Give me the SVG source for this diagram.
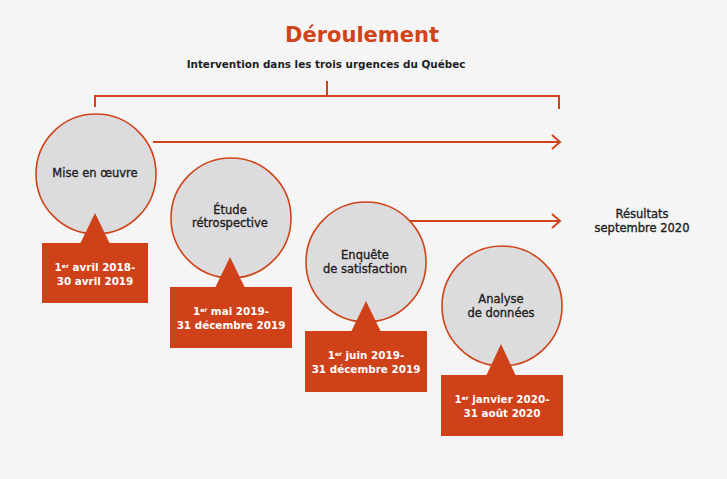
<svg xmlns="http://www.w3.org/2000/svg" width="727" height="479" viewBox="0 0 727 479">
<style>
.bg{fill:#f5f5f5}
.ln{stroke:#cf4419;stroke-width:2;fill:none}
.circ{fill:#dcdcde;stroke:#cf4419;stroke-width:1.6}
.box{fill:#cf4118}
.tri{fill:#cf4118}
.ct{font-family:"DejaVu Sans",sans-serif;font-size:11.5px;fill:#1e1e1e;stroke:#1e1e1e;stroke-width:0.35;text-anchor:middle}
.bt{font-family:"DejaVu Sans",sans-serif;font-size:10.4px;font-weight:bold;fill:#ffffff;text-anchor:middle}
.sup{font-size:6px}
</style>
<defs>
<marker id="chev" markerUnits="userSpaceOnUse" markerWidth="12" markerHeight="18" refX="9" refY="8" orient="auto">
<path d="M1,1 L9,8 L1,15" fill="none" stroke="#cf4419" stroke-width="2"/>
</marker>
</defs>
<rect class="bg" x="0" y="0" width="727" height="479"/>
<g id="title">
<text x="362" y="42" font-family="DejaVu Sans,sans-serif" font-size="21" font-weight="bold" fill="#cf4419" text-anchor="middle">Déroulement</text>
<text x="326" y="68" font-family="DejaVu Sans,sans-serif" font-size="10.4" font-weight="bold" fill="#1e1e1e" text-anchor="middle">Intervention dans les trois urgences du Québec</text>
</g>
<g id="connectors">
<path class="ln" d="M327,81 V96 M95,107 V96 H559 V109"/>
<line class="ln" x1="153" y1="142" x2="560" y2="142" marker-end="url(#chev)"/>
<line class="ln" x1="409" y1="221" x2="560" y2="221" marker-end="url(#chev)"/>
</g>
<g id="node-mise">
<circle class="circ" cx="96" cy="174" r="60"/>
<text class="ct" x="95" y="177">Mise en œuvre</text>
<polygon class="tri" points="95,213 80,244 110,244"/>
<rect class="box" x="42" y="243" width="106" height="60"/>
<text class="bt" x="95" y="271">1<tspan class="sup" dy="-3.5">er</tspan><tspan dy="3.5"> avril 2018-</tspan></text>
<text class="bt" x="95" y="285">30 avril 2019</text>
</g>
<g id="node-etude">
<circle class="circ" cx="231" cy="218" r="60"/>
<text class="ct" x="230" y="214">Étude</text>
<text class="ct" x="230" y="227">rétrospective</text>
<polygon class="tri" points="230,257 215,288 245,288"/>
<rect class="box" x="170" y="287" width="122" height="61"/>
<text class="bt" x="231" y="315">1<tspan class="sup" dy="-3.5">er</tspan><tspan dy="3.5"> mai 2019-</tspan></text>
<text class="bt" x="231" y="329">31 décembre 2019</text>
</g>
<g id="node-enquete">
<circle class="circ" cx="366" cy="262" r="60"/>
<text class="ct" x="365" y="259">Enquête</text>
<text class="ct" x="365" y="273">de satisfaction</text>
<polygon class="tri" points="366,301 351,332 381,332"/>
<rect class="box" x="305" y="331" width="122" height="61"/>
<text class="bt" x="366" y="359">1<tspan class="sup" dy="-3.5">er</tspan><tspan dy="3.5"> juin 2019-</tspan></text>
<text class="bt" x="366" y="373">31 décembre 2019</text>
</g>
<g id="node-analyse">
<circle class="circ" cx="502" cy="306" r="60"/>
<text class="ct" x="501" y="303">Analyse</text>
<text class="ct" x="501" y="317">de données</text>
<polygon class="tri" points="501,344 486,376 516,376"/>
<rect class="box" x="441" y="375" width="122" height="61"/>
<text class="bt" x="502" y="403">1<tspan class="sup" dy="-3.5">er</tspan><tspan dy="3.5"> janvier 2020-</tspan></text>
<text class="bt" x="502" y="417">31 août 2020</text>
</g>
<g id="node-resultats">
<text class="ct" x="642" y="218" font-size="11">Résultats</text>
<text class="ct" x="642" y="232" font-size="11">septembre 2020</text>
</g>
</svg>
